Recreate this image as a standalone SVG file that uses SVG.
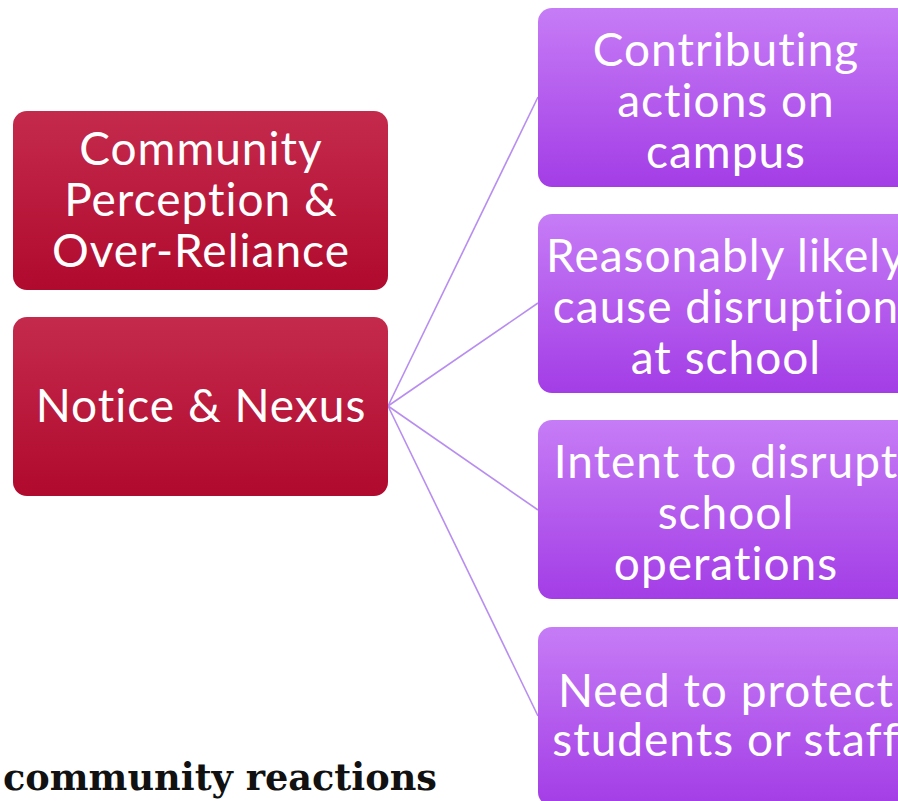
<svg xmlns="http://www.w3.org/2000/svg" width="898" height="801" viewBox="0 0 898 801">
<defs>
<linearGradient id="red" x1="0" y1="0" x2="0" y2="1"><stop offset="0" stop-color="#c42a4c"/><stop offset="1" stop-color="#b00a2e"/></linearGradient>
<linearGradient id="pur" x1="0" y1="0" x2="0" y2="1"><stop offset="0" stop-color="#c67cf6"/><stop offset="1" stop-color="#a33de6"/></linearGradient>
<style>
.r{fill:url(#red)}
.p{fill:url(#pur)}
.t{font-family:Lato,"Open Sans",sans-serif;font-size:46px;letter-spacing:1px;fill:#fff;text-anchor:middle}
.c{stroke:#b88df0;stroke-width:1.6;fill:none}
.cap{font-family:"DejaVu Serif","Liberation Serif",serif;font-size:38px;font-weight:bold;fill:#111}
</style>
</defs>
<rect width="898" height="801" fill="#fff"/>
<g id="connectors">
<line class="c" x1="388" y1="406" x2="538" y2="97"/>
<line class="c" x1="388" y1="406" x2="538" y2="303"/>
<line class="c" x1="388" y1="406" x2="538" y2="510"/>
<line class="c" x1="388" y1="406" x2="538" y2="716"/>
</g>
<g id="n1"><rect class="r" x="13" y="111" width="375" height="179" rx="14"/>
<text class="t" x="201" y="165">Community</text><text class="t" x="201" y="216">Perception &amp;</text><text class="t" x="201" y="267">Over-Reliance</text></g>
<g id="n2"><rect class="r" x="13" y="317" width="375" height="179" rx="14"/>
<text class="t" x="201" y="422">Notice &amp; Nexus</text></g>
<g id="p1"><rect class="p" x="538" y="8" width="375" height="179" rx="14"/>
<text class="t" x="726" y="66">Contributing</text><text class="t" x="726" y="117">actions on</text><text class="t" x="726" y="168">campus</text></g>
<g id="p2"><rect class="p" x="538" y="214" width="375" height="179" rx="14"/>
<text class="t" x="726" y="272">Reasonably likely</text><text class="t" x="726" y="323">cause disruption</text><text class="t" x="726" y="374">at school</text></g>
<g id="p3"><rect class="p" x="538" y="420" width="375" height="179" rx="14"/>
<text class="t" x="726" y="478">Intent to disrupt</text><text class="t" x="726" y="529">school</text><text class="t" x="726" y="580">operations</text></g>
<g id="p4"><rect class="p" x="538" y="627" width="375" height="179" rx="14"/>
<text class="t" x="726" y="707">Need to protect</text><text class="t" x="726" y="756">students or staff</text></g>
<text class="cap" x="3" y="790" textLength="434" lengthAdjust="spacingAndGlyphs">community reactions</text>
</svg>
